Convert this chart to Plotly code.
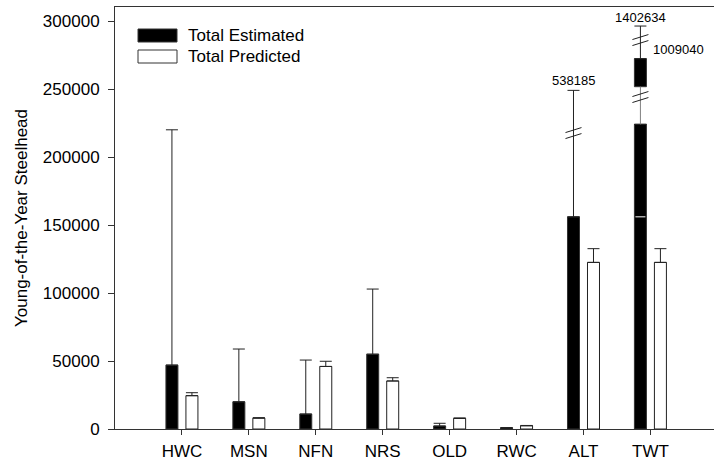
import plotly.graph_objects as go

# ---------------- data ----------------
categories = ["HWC", "MSN", "NFN", "NRS", "OLD", "RWC", "ALT", "TWT"]
est_shown = [47000, 20000, 11000, 55000, 2200, 900, 156000, 224000]
est_upper_shown = [220000, 58800, 50700, 102900, 4200, 900, 249000, 224000]
pred = [24500, 8000, 46000, 35300, 7800, 2400, 122500, 122500]
pred_upper = [26700, 8300, 49800, 37700, 8100, 2600, 132600, 132600]

# TWT broken bar: upper piece shown above the axis break
twt_piece_base = 251700
twt_piece_top = 272300
twt_upper_shown = 296300
twt_seam = 156000
alt_breaks = [217600]
twt_breaks = [244100, 286000]
label_alt_upper = "538185"
label_twt_upper = "1402634"
label_twt_est = "1009040"
label_twt_est_level = 278700

y_ticks = [0, 50000, 100000, 150000, 200000, 250000, 300000]

# ---------------- geometry / style ----------------
W, H = 714, 465
ML, MR, MT, MB = 115, 0, 7, 36
PW, PH = W - ML - MR, H - MT - MB
XR = [-1, 7.95]
YR = [0, 310300]
px_x = PW / (XR[1] - XR[0])          # px per category unit
v_px = (YR[1] - YR[0]) / PH          # value per px

BAR_W = 12 / px_x
EST_OFF = -16 / px_x
PRED_OFF = 4 / px_x
FONT = "Liberation Sans, Arial, sans-serif"

xs = list(range(len(categories)))
est_center = [x + EST_OFF + BAR_W / 2 for x in xs]
n = len(categories)

fig = go.Figure()

# Total Estimated (black)
fig.add_trace(go.Bar(
    x=xs, y=est_shown, width=[BAR_W] * n, offset=[EST_OFF] * n,
    marker=dict(color="black", line=dict(color="#333333", width=1)),
    error_y=dict(type="data", symmetric=False,
                 array=[u - v for u, v in zip(est_upper_shown, est_shown)],
                 arrayminus=[0] * n, color="#222222", thickness=1, width=6),
    showlegend=False, name="Total Estimated"))

# Total Predicted (white)
fig.add_trace(go.Bar(
    x=xs, y=pred, width=[BAR_W] * n, offset=[PRED_OFF] * n,
    marker=dict(color="white", line=dict(color="#222222", width=1)),
    error_y=dict(type="data", symmetric=False,
                 array=[u - v for u, v in zip(pred_upper, pred)],
                 arrayminus=[0] * n, color="#222222", thickness=1, width=6),
    showlegend=False, name="Total Predicted"))

# TWT: connector between the two pieces (gray)
i_twt = categories.index("TWT")
i_alt = categories.index("ALT")
fig.add_trace(go.Scatter(
    x=[est_center[i_twt], est_center[i_twt]],
    y=[est_shown[i_twt], twt_piece_base],
    mode="lines", line=dict(color="#808080", width=1),
    showlegend=False, hoverinfo="skip"))

# TWT: upper piece above break
fig.add_trace(go.Bar(
    x=[xs[i_twt]], y=[twt_piece_top - twt_piece_base], base=[twt_piece_base],
    width=[BAR_W], offset=[EST_OFF],
    marker=dict(color="black", line=dict(color="#333333", width=1)),
    error_y=dict(type="data", symmetric=False,
                 array=[twt_upper_shown - twt_piece_top], arrayminus=[0],
                 color="#222222", thickness=1, width=6),
    showlegend=False))

# thin white seam in TWT bar
fig.add_trace(go.Scatter(
    x=[xs[i_twt] + EST_OFF + 1 / px_x, xs[i_twt] + EST_OFF + BAR_W - 1 / px_x],
    y=[twt_seam, twt_seam], mode="lines",
    line=dict(color="white", width=1), showlegend=False, hoverinfo="skip"))


# break marks "//"
def break_marks(xc, yc):
    bx, by = [], []
    hw, hr, gap = 8 / px_x, 2.5 * v_px, 3 * v_px
    for d in (-gap, gap):
        bx += [xc - hw, xc + hw, None]
        by += [yc + d - hr, yc + d + hr, None]
    return bx, by


bxs, bys = [], []
for lvl in alt_breaks:
    a, b = break_marks(est_center[i_alt], lvl)
    bxs += a
    bys += b
for lvl in twt_breaks:
    a, b = break_marks(est_center[i_twt], lvl)
    bxs += a
    bys += b
fig.add_trace(go.Scatter(x=bxs, y=bys, mode="lines",
                         line=dict(color="#222222", width=1),
                         showlegend=False, hoverinfo="skip"))

# value labels
ann = [
    dict(x=est_center[i_alt], y=est_upper_shown[i_alt], text=label_alt_upper,
         xref="x", yref="y", showarrow=False, yanchor="bottom", yshift=0,
         font=dict(size=13, color="black", family=FONT)),
    dict(x=est_center[i_twt], y=twt_upper_shown, text=label_twt_upper,
         xref="x", yref="y", showarrow=False, yanchor="bottom", yshift=-1,
         font=dict(size=13, color="black", family=FONT)),
    dict(x=est_center[i_twt], y=label_twt_est_level, text=label_twt_est,
         xref="x", yref="y", showarrow=False, xanchor="left", xshift=11,
         yanchor="middle", font=dict(size=13, color="black", family=FONT)),
    # y-axis title
    dict(x=(21 - ML) / PW, y=0.5, xref="paper", yref="paper",
         text="Young-of-the-Year Steelhead", textangle=-90, showarrow=False,
         xanchor="center", yanchor="middle",
         font=dict(size=17, color="black", family=FONT)),
    # legend texts
    dict(x=(186 - ML) / PW, y=(429 - 35.5) / PH, xref="paper", yref="paper",
         text="Total Estimated", showarrow=False, xanchor="left",
         yanchor="middle", font=dict(size=17, color="black", family=FONT)),
    dict(x=(186 - ML) / PW, y=(429 - 56.5) / PH, xref="paper", yref="paper",
         text="Total Predicted", showarrow=False, xanchor="left",
         yanchor="middle", font=dict(size=17, color="black", family=FONT)),
]

shapes = [
    dict(type="rect", xref="paper", yref="paper",
         x0=(138 - ML) / PW, x1=(177 - ML) / PW,
         y0=(429 - 42) / PH, y1=(429 - 29) / PH,
         fillcolor="black", line=dict(color="#333333", width=1)),
    dict(type="rect", xref="paper", yref="paper",
         x0=(138 - ML) / PW, x1=(177 - ML) / PW,
         y0=(429 - 63) / PH, y1=(429 - 50) / PH,
         fillcolor="white", line=dict(color="#333333", width=1)),
]

fig.update_layout(
    width=W, height=H,
    margin=dict(l=ML, r=MR, t=MT, b=MB, pad=0),
    paper_bgcolor="white", plot_bgcolor="white",
    barmode="overlay", showlegend=False,
    font=dict(family=FONT, size=17, color="black"),
    annotations=ann, shapes=shapes,
    xaxis=dict(range=XR, tickvals=xs, ticktext=categories,
               showline=True, linecolor="#333333", linewidth=1, mirror=True,
               ticks="outside", ticklen=5, tickcolor="#333333",
               ticklabelstandoff=2,
               showgrid=False, zeroline=False, fixedrange=True,
               tickfont=dict(size=17, family=FONT, color="black")),
    yaxis=dict(range=YR, tickvals=y_ticks, ticktext=[str(t) for t in y_ticks],
               showline=True, linecolor="#333333", linewidth=1, mirror=False,
               ticks="outside", ticklen=6, tickcolor="#333333",
               ticklabelstandoff=5,
               showgrid=False, zeroline=False, fixedrange=True,
               tickfont=dict(size=17, family=FONT, color="black")),
)

fig.write_html(
    "out.html",
    config={"displayModeBar": False},
    post_script="document.body.style.margin='0';document.body.style.padding='0';",
)
